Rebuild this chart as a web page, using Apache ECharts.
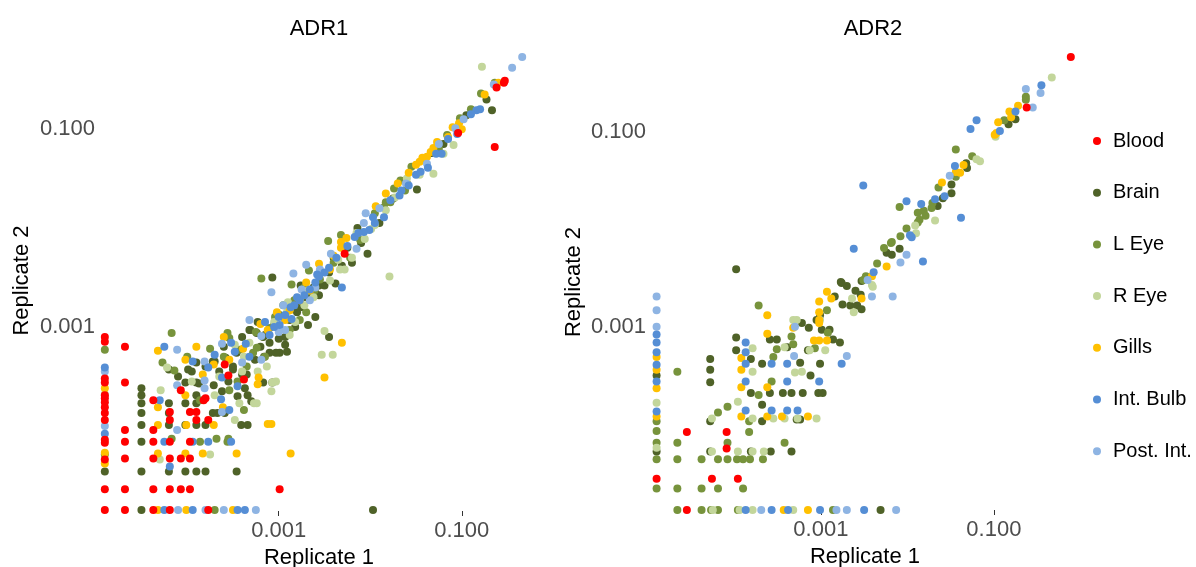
<!DOCTYPE html>
<html>
<head>
<meta charset="utf-8">
<script src="https://cdn.jsdelivr.net/npm/echarts@6/dist/echarts.min.js"></script>
<style>
  html, body { margin: 0; padding: 0; background: #fff; }
  #chart { width: 1196px; height: 567px; }
</style>
</head>
<body>
<div id="chart"></div>
<script>
// Replicate agreement per tissue, log10 of relative abundance [replicate 1, replicate 2].
const tissues = ['Blood', 'Brain', 'L Eye', 'R Eye', 'Gills', 'Int. Bulb', 'Post. Int.'];
const panelTitles = ['ADR1', 'ADR2'];
const tickValues = [-3, -1];
const tickLabels = ['0.001', '0.100'];

// ---- ADR1 ----
const adr1Blood = [
  [-4.90,-3.10],[-4.90,-3.15],[-4.90,-3.52],[-4.90,-3.56],[-4.90,-3.69],[-4.90,-3.72],[-4.90,-3.76],[-4.90,-3.81],
  [-4.90,-3.87],[-4.90,-3.94],[-4.90,-4.14],[-4.90,-4.17],[-4.90,-4.34],[-4.90,-4.64],[-4.90,-4.85],
  [-4.68,-3.20],[-4.68,-3.56],[-4.68,-4.04],[-4.68,-4.16],[-4.68,-4.33],[-4.68,-4.64],[-4.68,-4.85],
  [-4.37,-3.74],[-4.37,-4.04],[-4.37,-4.16],[-4.37,-4.33],[-4.37,-4.64],[-4.37,-4.85],
  [-4.19,-3.86],[-4.19,-3.94],[-4.19,-4.16],[-4.19,-4.33],[-4.19,-4.64],[-4.19,-4.85],
  [-4.07,-3.64],[-4.07,-4.33],[-4.07,-4.64],
  [-3.97,-3.86],[-3.97,-4.16],[-3.97,-4.33],[-3.97,-4.64],
  [-3.90,-3.86],[-3.90,-3.94],[-3.82,-3.74],[-3.80,-3.72],[-3.77,-3.94],[-3.77,-4.85],
  [-3.59,-3.38],[-3.55,-3.49],[-3.38,-3.53],[-2.99,-4.64],
  [-2.28,-2.26],[-1.04,-1.04],[-0.64,-1.18],[-0.54,-0.53],[-0.53,-0.51],[-0.62,-0.58]
];
const adr1Brain = [
  [-4.90,-4.46],
  [-4.50,-4.46],[-4.50,-4.16],[-4.50,-3.99],[-4.50,-3.87],[-4.50,-3.77],[-4.50,-3.69],[-4.50,-3.62],[-4.50,-4.85],
  [-4.20,-4.46],[-4.20,-3.99],[-4.20,-3.87],[-4.20,-3.77],[-4.20,-3.43],
  [-4.02,-4.46],[-4.02,-3.77],[-4.02,-3.56],[-4.02,-3.99],
  [-3.90,-4.46],[-3.90,-3.99],[-3.90,-3.77],[-3.90,-3.56],[-3.90,-3.69],
  [-3.80,-4.46],[-3.80,-3.99],[-3.46,-4.46],
  [-3.72,-3.87],[-3.67,-3.87],[-3.59,-3.87],[-3.72,-3.35],[-3.50,-3.43],[-3.40,-3.48],[-3.35,-3.48],[-3.34,-3.69],
  [-3.37,-3.62],[-3.41,-3.99],[-3.34,-3.99],
  [-3.17,-3.56],[-3.07,-3.56],[-3.46,-3.26],[-3.10,-3.26],[-2.99,-3.26],[-2.45,-3.10],
  [-3.99,-3.43],[-3.90,-3.36],[-3.70,-3.35],[-3.87,-3.57],[-3.71,-3.59],[-3.58,-3.31],[-3.50,-3.40],[-3.26,-3.33],
  [-3.16,-3.30],[-3.03,-3.26],[-2.91,-3.25],
  [-4.10,-3.50],[-3.95,-3.45],[-3.80,-3.40],[-3.65,-3.45],[-3.55,-3.55],[-3.45,-3.70],[-3.30,-3.75],[-3.62,-3.65],
  [-3.32,-3.03],[-3.24,-3.06],[-3.23,-2.95],[-3.31,-3.03],[-3.17,-3.10],[-3.10,-3.16],[-2.93,-3.18],[-2.93,-3.10],
  [-2.80,-2.85],[-2.74,-2.80],[-2.77,-2.78],[-2.66,-2.68],[-2.50,-2.58],[-2.88,-2.93],[-3.15,-3.08],
  [-3.05,-2.98],[-2.95,-2.90],[-2.85,-2.82],[-2.70,-2.70],[-2.62,-2.60],[-2.45,-2.45],[-2.40,-2.30],[-2.25,-2.20],
  [-2.20,-2.35],[-3.20,-3.20],[-3.00,-3.12],[-2.82,-3.00],[-2.60,-2.90],[-2.68,-2.98],[-3.40,-3.10],[-3.60,-3.20],
  [-3.07,-2.50],[-2.76,-2.58],[-2.56,-2.58],[-2.38,-2.56],[-2.56,-2.68],[-2.60,-2.66],[-2.31,-2.38],[-2.14,-2.00],
  [-2.03,-2.26],[-2.10,-2.15],[-1.90,-1.95],[-1.75,-1.70],[-1.60,-1.55],[-1.49,-1.61],[-1.33,-1.24],[-1.20,-1.15],
  [-0.95,-0.86],[-0.73,-0.70],[-0.67,-0.81],
  [-1.97,-4.85]
];
const adr1LEye = [
  [-4.90,-3.23],[-4.90,-4.29],
  [-4.17,-3.06],[-4.17,-4.13],[-3.56,-3.06],[-3.28,-3.26],[-3.38,-3.84],[-3.86,-4.16],[-3.56,-4.16],[-3.70,-4.85],
  [-4.27,-3.36],[-4.14,-3.44],[-3.86,-3.74],[-3.43,-3.23],[-3.54,-3.11],[-3.24,-3.21],[-3.10,-3.01],[-2.88,-3.03],
  [-2.77,-2.93],[-3.54,-3.64],[-3.68,-4.13],[-3.55,-4.13],[-3.04,-2.90],
  [-4.00,-3.30],[-3.75,-3.22],[-3.60,-3.30],[-3.45,-3.55],[-3.15,-3.30],[-3.35,-3.40],[-3.25,-3.05],
  [-3.19,-2.51],[-2.86,-2.57],[-2.67,-2.43],[-2.61,-2.63],[-2.83,-2.73],[-2.99,-2.88],[-2.46,-2.13],[-2.32,-2.07],
  [-2.22,-2.30],[-2.11,-2.12],[-2.95,-2.78],[-2.72,-2.60],[-2.55,-2.52],[-2.40,-2.35],[-2.70,-2.85],
  [-1.95,-1.85],[-1.85,-1.79],[-1.83,-1.74],[-1.78,-1.74],[-1.74,-1.60],[-1.67,-1.52],[-1.62,-1.62],[-1.55,-1.38],
  [-1.40,-1.30],[-1.25,-1.20],[-1.16,-1.06],[-1.02,-0.89],[-0.90,-0.80],[-0.79,-0.64],[-0.64,-0.53]
];
const adr1REye = [
  [-4.90,-3.68],
  [-0.78,-0.37],[-1.09,-1.16],[-1.20,-1.25],[-1.31,-1.45],[-1.46,-1.46],[-1.60,-1.50],[-1.73,-1.69],[-1.83,-1.82],
  [-1.95,-1.97],[-1.99,-2.01],[-2.06,-2.11],[-2.15,-2.05],[-1.79,-2.49],
  [-2.28,-2.42],[-2.20,-2.30],[-2.33,-2.42],[-2.35,-2.32],[-2.44,-2.53],[-2.55,-2.45],[-2.68,-2.63],[-2.62,-2.70],
  [-2.77,-2.73],[-2.72,-2.78],[-2.90,-2.75],[-2.91,-2.85],[-2.88,-3.08],[-3.05,-2.95],[-2.82,-2.95],
  [-2.50,-3.04],[-2.53,-3.28],[-2.41,-3.28],
  [-4.29,-3.64],[-4.22,-3.41],[-3.27,-3.77],[-3.43,-3.77],[-3.24,-3.77],[-3.13,-3.40],[-3.03,-3.55],[-3.07,-3.56],
  [-3.08,-3.65],[-3.48,-3.18],[-3.32,-3.16],[-3.23,-3.45],[-3.70,-3.69],[-3.48,-3.94],[-3.38,-3.30],
  [-3.95,-3.55],[-3.65,-3.50],[-3.40,-3.45],
  [-4.30,-4.34],[-3.75,-4.29]
];
const adr1Gills = [
  [-4.90,-3.62],[-4.90,-4.27],[-4.90,-4.38],
  [-0.60,-0.53],[-0.75,-0.65],[-1.03,-0.94],[-1.00,-1.00],[-1.10,-0.98],[-1.15,-1.08],[-1.27,-1.13],[-1.31,-1.19],
  [-1.34,-1.23],[-1.43,-1.29],[-1.38,-1.28],[-1.46,-1.33],[-1.50,-1.36],[-1.58,-1.44],[-1.70,-1.55],[-1.83,-1.65],
  [-1.94,-1.78],[-2.26,-2.10],[-2.32,-2.14],[-2.32,-2.20],[-2.40,-2.28],[-2.56,-2.36],[-2.44,-2.42],[-2.70,-2.55],
  [-2.88,-2.83],[-2.77,-2.73],[-3.12,-3.03],[-2.66,-2.63],[-2.93,-2.93],[-3.20,-2.97],[-3.02,-2.85],
  [-2.31,-3.16],[-2.50,-3.51],[-3.12,-3.98],[-3.08,-3.98],[-2.87,-4.28],
  [-4.32,-3.24],[-4.32,-4.28],[-4.02,-4.28],[-3.83,-4.28],[-3.46,-4.28],[-4.02,-3.33],[-3.71,-3.38],[-3.83,-3.48],
  [-4.02,-3.69],[-3.54,-3.33],[-3.39,-3.22],[-3.22,-3.51],[-3.23,-3.58],[-3.61,-3.81],[-4.32,-3.81],[-4.32,-3.99],
  [-3.71,-3.99],[-4.01,-3.99],[-3.90,-3.20],[-3.60,-3.10],
  [-4.32,-4.85],[-4.01,-4.85],[-3.50,-4.85]
];
const adr1IntBulb = [
  [-4.90,-3.41],[-4.90,-4.08],
  [-0.84,-0.81],[-0.80,-0.80],[-0.90,-0.85],[-1.05,-1.05],[-1.15,-1.10],[-1.28,-1.25],[-1.22,-1.25],[-1.50,-1.46],
  [-1.45,-1.43],[-1.37,-1.39],[-1.58,-1.57],[-1.66,-1.62],[-1.68,-1.67],[-1.78,-1.72],[-1.97,-1.89],[-1.85,-1.89],
  [-1.95,-1.95],[-2.01,-2.02],[-2.07,-2.04],[-2.17,-2.09],[-2.13,-2.05],[-2.25,-2.18],[-2.37,-2.30],[-2.45,-2.40],
  [-2.50,-2.45],[-2.58,-2.47],[-2.56,-2.49],[-2.60,-2.55],[-2.66,-2.62],[-2.31,-2.60],[-2.80,-2.70],[-2.77,-2.73],
  [-2.72,-2.68],[-2.83,-2.78],[-2.93,-2.88],[-2.86,-2.92],[-3.00,-2.90],[-2.99,-2.98],[-3.05,-3.00],[-3.10,-3.08],
  [-4.25,-3.20],[-4.25,-4.16],[-3.94,-4.16],[-3.77,-4.16],[-3.52,-4.16],[-3.63,-3.73],[-3.62,-3.51],[-3.77,-3.41],
  [-3.94,-3.35],[-3.52,-3.16],[-3.32,-3.30],[-3.45,-3.60],[-3.36,-3.17],[-3.15,-2.95],[-2.87,-2.80],[-3.54,-3.84],
  [-4.19,-4.41],[-4.30,-3.74],[-3.70,-3.28],[-3.48,-3.25],
  [-4.25,-4.85],[-3.94,-4.85],[-3.45,-4.85],[-3.37,-4.85]
];
const adr1PostInt = [
  [-4.90,-3.45],[-4.90,-4.00],
  [-0.34,-0.27],[-0.45,-0.38],[-0.65,-0.55],[-0.98,-0.90],[-1.07,-0.99],[-1.25,-1.15],[-1.38,-1.35],[-1.61,-1.55],
  [-1.90,-1.80],[-2.05,-1.85],[-2.07,-1.95],[-2.15,-2.21],[-2.43,-2.26],[-2.55,-2.42],[-2.70,-2.37],[-2.75,-2.62],
  [-2.84,-2.46],[-2.60,-2.60],[-3.08,-2.65],[-2.95,-2.78],[-2.93,-3.03],[-3.00,-3.05],[-2.66,-2.73],[-3.32,-2.93],
  [-3.19,-3.09],
  [-4.11,-3.23],[-4.11,-3.59],[-3.81,-3.35],[-3.81,-3.62],[-3.62,-3.17],[-3.40,-3.36],[-3.19,-3.33],[-4.11,-4.04],
  [-3.81,-3.54],[-3.62,-3.86],
  [-4.10,-4.85],[-3.80,-4.85],[-3.60,-4.85],[-3.25,-4.85]
];

// ---- ADR2 ----
const adr2Blood = [
  [-0.11,-0.23],[-0.62,-0.75],
  [-4.90,-4.56],[-4.55,-4.08],[-4.09,-4.08],[-4.09,-4.25],[-4.26,-4.56],[-3.96,-4.56],[-4.55,-4.88]
];
const adr2Brain = [
  [-3.98,-2.41],[-0.75,-0.87],[-0.83,-0.92],[-1.32,-1.32],[-1.31,-1.37],[-1.49,-1.54],[-1.49,-1.63],[-1.59,-1.68],
  [-1.65,-1.76],[-2.09,-2.20],[-2.24,-2.24],[-2.18,-2.26],
  [-2.76,-2.55],[-2.70,-2.58],[-2.60,-2.63],[-2.54,-2.67],[-2.84,-2.69],[-2.77,-2.54],[-2.75,-2.77],[-2.66,-2.78],
  [-2.58,-2.78],[-2.53,-2.82],[-2.53,-2.53],
  [-3.01,-2.88],[-2.90,-3.03],[-2.86,-3.13],[-2.78,-3.16],[-3.05,-2.93],[-3.22,-2.96],[-3.14,-3.01],[-2.99,-3.03],
  [-3.15,-3.24],[-3.24,-3.37],[-3.12,-3.50],[-3.01,-3.38],
  [-3.59,-3.13],[-3.51,-3.13],[-3.39,-3.21],[-3.98,-3.11],[-3.98,-3.24],[-3.81,-3.33],[-3.68,-3.38],[-4.28,-3.33],
  [-4.28,-3.44],[-4.28,-3.57],
  [-3.81,-3.68],[-3.59,-3.68],[-3.44,-3.68],[-3.34,-3.68],[-3.21,-3.68],[-3.03,-3.68],[-2.98,-3.68],[-3.68,-3.80],
  [-4.28,-3.97],[-3.68,-3.97],[-3.28,-3.95],[-3.24,-3.95],
  [-4.28,-4.28],[-3.81,-4.28],[-3.58,-4.28],[-3.34,-4.28],
  [-2.31,-4.88],[-4.90,-3.50],[-4.90,-4.28]
];
const adr2LEye = [
  [-0.63,-0.64],[-0.63,-0.67],[-0.88,-0.88],[-1.44,-1.18],[-1.25,-1.25],[-1.44,-1.46],[-1.64,-1.57],[-1.71,-1.73],
  [-1.72,-1.78],[-1.81,-1.81],[-1.88,-1.83],[-2.09,-1.77],[-1.79,-1.86],[-1.86,-1.90],[-1.88,-1.93],[-2.01,-1.99],
  [-2.08,-2.07],[-2.18,-2.13],[-2.19,-2.14],[-2.27,-2.19],[-2.35,-2.35],[-2.48,-2.48],[-2.51,-2.52],
  [-3.72,-2.78],[-2.92,-3.06],[-2.93,-2.83],[-3.07,-3.22],[-3.32,-3.18],[-3.34,-3.10],[-3.51,-3.23],[-3.55,-3.31],
  [-3.57,-3.56],[-3.72,-3.70],[-3.83,-3.97],[-4.08,-3.82],[-4.19,-3.88],[-4.66,-3.46],
  [-4.66,-4.19],[-4.08,-4.19],[-3.42,-4.19],[-3.83,-4.08],
  [-4.66,-4.36],[-4.38,-4.36],[-4.19,-4.36],[-4.08,-4.36],[-3.97,-4.36],[-3.90,-4.36],[-3.82,-4.36],[-3.67,-4.36],
  [-4.66,-4.66],[-4.38,-4.66],[-4.19,-4.66],[-3.90,-4.66],
  [-4.66,-4.88],[-4.38,-4.88],[-4.27,-4.88],[-4.19,-4.88],[-3.96,-4.88],[-2.86,-4.88],
  [-4.90,-3.97],[-4.90,-4.07],[-4.90,-4.19],[-4.90,-4.36],[-4.90,-4.66]
];
const adr2REye = [
  [-0.33,-0.44],[-0.98,-1.05],[-1.20,-1.28],[-1.16,-1.30],[-1.68,-1.91],[-1.91,-1.96],[-1.90,-2.04],[-2.41,-2.57],
  [-2.40,-2.59],[-2.64,-2.71],[-2.62,-2.85],
  [-2.95,-3.24],[-3.13,-3.24],[-3.42,-3.21],[-3.28,-2.93],[-3.32,-2.93],[-3.01,-2.93],[-3.79,-3.22],[-3.79,-3.46],
  [-3.30,-3.47],[-3.22,-3.46],[-3.96,-3.77],
  [-4.26,-3.94],[-3.79,-3.94],[-3.55,-3.94],[-3.42,-3.94],[-3.27,-3.94],[-3.05,-3.94],
  [-4.26,-4.28],[-3.96,-4.28],[-3.79,-4.28],[-3.66,-4.28],
  [-4.25,-4.88],[-3.94,-4.88],[-3.79,-4.88],[-3.32,-4.88],
  [-4.90,-3.78],[-4.90,-4.24]
];
const adr2Gills = [
  [-0.72,-0.73],[-0.82,-0.79],[-0.80,-0.85],[-0.95,-0.90],[-0.99,-1.03],[-0.97,-1.01],[-1.35,-1.34],[-1.44,-1.41],
  [-1.39,-1.42],[-1.60,-1.52],[-2.24,-2.38],[-2.41,-2.48],
  [-2.93,-2.64],[-2.88,-2.71],[-2.53,-2.71],[-3.02,-2.85],[-3.02,-2.74],[-3.02,-2.93],[-3.02,-2.96],
  [-3.62,-2.88],[-3.62,-3.07],[-3.92,-3.32],[-3.92,-3.44],[-3.92,-3.62],[-3.62,-3.62],
  [-3.08,-3.14],[-3.02,-3.14],[-2.93,-3.14],[-3.32,-3.01],
  [-3.92,-3.92],[-3.62,-3.92],[-3.45,-3.92],[-3.15,-3.92],
  [-3.43,-4.88],[-3.15,-4.88],
  [-4.90,-3.31],[-4.90,-3.44],[-4.90,-3.63],[-4.90,-3.92]
];
const adr2IntBulb = [
  [-0.45,-0.52],[-0.75,-0.79],[-0.93,-0.99],[-1.20,-0.88],[-1.27,-0.97],[-1.45,-1.35],[-1.57,-1.66],[-1.68,-1.69],
  [-1.84,-1.74],[-2.01,-1.71],[-1.38,-1.88],[-1.97,-2.06],[-1.95,-2.08],[-2.51,-1.55],[-2.62,-2.20],[-1.82,-2.33],
  [-2.39,-2.44],
  [-2.76,-3.38],[-3.87,-3.16],[-3.87,-3.26],[-3.87,-3.38],[-3.57,-3.38],[-3.39,-3.38],
  [-3.87,-3.56],[-3.39,-3.56],[-3.02,-3.56],
  [-3.87,-3.86],[-3.57,-3.86],[-3.39,-3.86],[-3.27,-3.86],
  [-3.87,-4.88],[-3.57,-4.88],[-3.38,-4.88],[-3.01,-4.88],[-2.50,-4.88],
  [-4.90,-3.08],[-4.90,-3.16],[-4.90,-3.26],[-4.90,-3.39],[-4.90,-3.56],[-4.90,-3.87]
];
const adr2PostInt = [
  [-0.63,-0.56],[-0.46,-0.60],[-0.55,-0.75],[-1.51,-1.45],[-2.01,-2.26],[-2.08,-2.34],[-2.46,-2.52],[-2.17,-2.69],
  [-2.41,-2.69],[-2.70,-3.30],[-3.31,-3.30],[-3.30,-3.00],
  [-4.90,-2.69],[-4.90,-2.83],[-4.90,-3.00],
  [-3.69,-4.88],[-2.82,-4.88],[-2.70,-4.88],[-2.13,-4.88]
];

const adr1 = [adr1Blood, adr1Brain, adr1LEye, adr1REye, adr1Gills, adr1IntBulb, adr1PostInt];
const adr2 = [adr2Blood, adr2Brain, adr2LEye, adr2REye, adr2Gills, adr2IntBulb, adr2PostInt];

const colors = ['#FF0000', '#4F6228', '#77933C', '#C3D69B', '#FFC000', '#558ED5', '#8EB4E3'];
const FONT = '"Liberation Sans", Arial, Helvetica, sans-serif';

// Panel geometry and axis ranges (log10 units)
const panels = [
  { data: adr1, grid: { left: 103, top: 50, width: 432, height: 461 }, x: [-4.92, -0.2], y: [-4.86, -0.2], titleX: 314, nameGapY: 70 },
  { data: adr2, grid: { left: 654, top: 54, width: 422, height: 456 }, x: [-4.93, -0.05], y: [-4.88, -0.2], titleX: 868, nameGapY: 69 }
];

function tickText(v) {
  const i = tickValues.findIndex(t => Math.abs(t - v) < 1e-6);
  return i >= 0 ? tickLabels[i] : '';
}

// Paint order: Blood last so it sits on top
const drawOrder = [1, 2, 3, 4, 6, 5, 0];

const option = {
  animation: false,
  backgroundColor: '#ffffff',
  textStyle: { fontFamily: FONT },
  title: panels.map((p, i) => ({
    text: panelTitles[i],
    left: p.titleX,
    top: 13,
    textAlign: 'center',
    textStyle: { fontFamily: FONT, fontSize: 22, fontWeight: 'normal', color: '#000' }
  })),
  legend: {
    orient: 'vertical',
    left: 1088,
    top: 126,
    icon: 'circle',
    itemWidth: 22,
    itemHeight: 8,
    itemGap: 31.7,
    data: tissues,
    selectedMode: false,
    textStyle: { fontFamily: FONT, fontSize: 20, color: '#000', lineHeight: 20 }
  },
  grid: panels.map(p => Object.assign({ containLabel: false, outerBoundsMode: 'none' }, p.grid)),
  xAxis: panels.map((p, i) => ({
    type: 'value',
    gridIndex: i,
    min: p.x[0],
    max: p.x[1],
    name: 'Replicate 1',
    nameLocation: 'middle',
    nameGap: 31,
    nameTextStyle: { fontFamily: FONT, fontSize: 22, color: '#000' },
    axisLine: { show: false },
    splitLine: { show: false },
    axisTick: { show: true, customValues: tickValues, length: 5, lineStyle: { color: '#333', width: 1 } },
    axisLabel: { customValues: tickValues, formatter: tickText, margin: 9, fontFamily: FONT, fontSize: 22, color: '#4D4D4D' }
  })),
  yAxis: panels.map((p, i) => ({
    type: 'value',
    gridIndex: i,
    min: p.y[0],
    max: p.y[1],
    name: 'Replicate 2',
    nameLocation: 'middle',
    nameRotate: 90,
    nameGap: p.nameGapY,
    nameTextStyle: { fontFamily: FONT, fontSize: 22, color: '#000' },
    axisLine: { show: false },
    splitLine: { show: false },
    axisTick: { show: false },
    axisLabel: { customValues: tickValues, formatter: tickText, margin: 8, fontFamily: FONT, fontSize: 22, color: '#4D4D4D' }
  })),
  series: []
};

panels.forEach((p, pi) => {
  drawOrder.forEach(ti => {
    option.series.push({
      type: 'scatter',
      name: tissues[ti],
      xAxisIndex: pi,
      yAxisIndex: pi,
      data: p.data[ti],
      symbol: 'circle',
      symbolSize: 8,
      itemStyle: { color: colors[ti], opacity: 1 },
      emphasis: { disabled: true },
      clip: false
    });
  });
});

const chart = echarts.init(document.getElementById('chart'), null, { renderer: 'canvas' });
chart.setOption(option);
</script>
</body>
</html>
